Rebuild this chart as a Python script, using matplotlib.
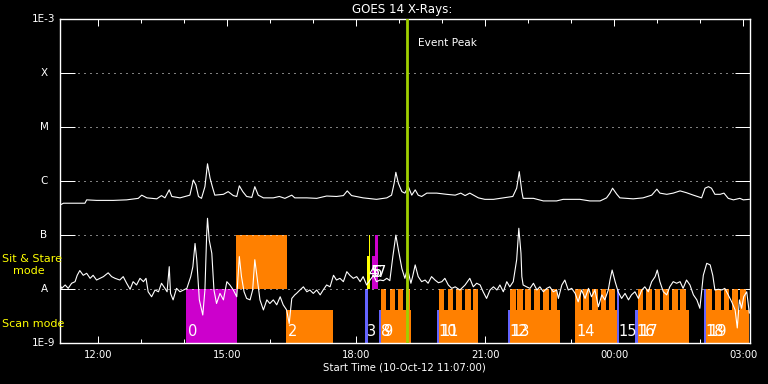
import matplotlib
matplotlib.use("Agg")
import matplotlib.pyplot as plt
from matplotlib.transforms import blended_transform_factory

# ---------------- data ----------------
# GOES 14 long channel (1-8 A), time in hours UT on 10-Oct-12 (values > 24 are next day)
long_t = [11.11, 11.19, 11.42, 11.69, 11.73, 11.96, 12.35, 12.66, 12.93, 13.01, 13.13, 13.36,
          13.47, 13.55, 13.65, 13.71, 13.90, 14.13, 14.21, 14.27, 14.33, 14.40, 14.48, 14.54,
          14.60, 14.66, 14.71, 14.91, 15.02, 15.14, 15.22, 15.28, 15.36, 15.45, 15.57, 15.64,
          15.72, 15.84, 16.07, 16.21, 16.34, 16.50, 16.57, 16.85, 17.08, 17.31, 17.54, 17.70,
          17.79, 17.89, 18.16, 18.47, 18.71, 18.82, 18.88, 18.92, 18.98, 19.06, 19.13, 19.21,
          19.29, 19.37, 19.44, 19.52, 19.64, 19.87, 20.10, 20.30, 20.43, 20.53, 20.64, 20.84,
          20.99, 21.19, 21.42, 21.64, 21.73, 21.79, 21.85, 21.88, 22.12, 22.35, 22.66, 22.81,
          23.20, 23.43, 23.67, 23.82, 23.90, 23.96, 24.06, 24.13, 24.44, 24.67, 24.87, 24.99,
          25.06, 25.22, 25.37, 25.53, 25.68, 25.84, 26.03, 26.11, 26.19, 26.26, 26.34, 26.46,
          26.55, 26.65, 26.77, 26.92, 27.00, 27.14]
long_flux = [3.6e-7, 3.9e-7, 3.9e-7, 3.9e-7, 4.5e-7, 4.4e-7, 4.4e-7, 4.5e-7, 4.8e-7, 5.5e-7, 4.9e-7, 4.7e-7,
             5.4e-7, 4.9e-7, 6.9e-7, 5.2e-7, 4.9e-7, 5.5e-7, 1.05e-6, 8.5e-7, 5.2e-7, 4.8e-7, 7.9e-7, 2.1e-6,
             1.13e-6, 7.5e-7, 5.5e-7, 5.7e-7, 6.4e-7, 5.4e-7, 5.2e-7, 8.2e-7, 6.4e-7, 5.2e-7, 5.0e-7, 7.9e-7,
             5.5e-7, 4.9e-7, 4.9e-7, 5.2e-7, 4.8e-7, 5.5e-7, 4.9e-7, 4.9e-7, 4.8e-7, 5.3e-7, 5.2e-7, 5.4e-7,
             6.6e-7, 5.4e-7, 4.9e-7, 4.6e-7, 4.9e-7, 5.5e-7, 9.1e-7, 1.46e-6, 9.1e-7, 6.4e-7, 6.0e-7, 7.9e-7,
             5.5e-7, 6.9e-7, 5.5e-7, 5.2e-7, 6.0e-7, 6.0e-7, 5.7e-7, 5.5e-7, 6.0e-7, 5.4e-7, 6.0e-7, 4.9e-7,
             4.6e-7, 4.6e-7, 4.9e-7, 5.2e-7, 7.4e-7, 1.5e-6, 6.4e-7, 4.8e-7, 4.8e-7, 4.3e-7, 4.3e-7, 4.6e-7,
             4.6e-7, 4.3e-7, 4.3e-7, 4.9e-7, 6.0e-7, 7.4e-7, 5.7e-7, 4.9e-7, 4.7e-7, 4.9e-7, 5.5e-7, 7.1e-7,
             6.0e-7, 5.7e-7, 6.0e-7, 6.6e-7, 6.1e-7, 5.5e-7, 4.9e-7, 7.4e-7, 7.9e-7, 7.4e-7, 5.7e-7, 5.7e-7,
             6.0e-7, 4.8e-7, 4.5e-7, 4.8e-7, 4.5e-7, 4.6e-7]

# GOES 14 short channel (0.5-4 A)
short_t = [11.11, 11.15, 11.23, 11.30, 11.38, 11.46, 11.51, 11.57, 11.65, 11.73, 11.81, 11.88,
           11.96, 12.04, 12.12, 12.23, 12.31, 12.39, 12.50, 12.58, 12.66, 12.74, 12.81, 12.89,
           12.97, 13.05, 13.11, 13.16, 13.24, 13.32, 13.40, 13.47, 13.55, 13.60, 13.65, 13.68,
           13.74, 13.82, 13.90, 13.98, 14.06, 14.15, 14.20, 14.25, 14.29, 14.35, 14.43, 14.48,
           14.52, 14.54, 14.58, 14.64, 14.69, 14.75, 14.83, 14.91, 14.99, 15.06, 15.14, 15.22,
           15.28, 15.33, 15.39, 15.45, 15.53, 15.59, 15.64, 15.70, 15.76, 15.84, 15.92, 15.99,
           16.07, 16.15, 16.23, 16.30, 16.38, 16.44, 16.50, 16.57, 16.61, 16.69, 16.77, 16.85,
           16.92, 17.00, 17.08, 17.16, 17.23, 17.31, 17.39, 17.47, 17.54, 17.62, 17.70, 17.78,
           17.85, 17.93, 18.01, 18.09, 18.16, 18.24, 18.32, 18.40, 18.47, 18.55, 18.63, 18.71,
           18.78, 18.85, 18.92, 18.98, 19.06, 19.13, 19.19, 19.27, 19.31, 19.37, 19.44, 19.52,
           19.60, 19.67, 19.75, 19.83, 19.91, 19.99, 20.06, 20.14, 20.22, 20.30, 20.41, 20.53,
           20.64, 20.72, 20.80, 20.88, 20.95, 21.03, 21.11, 21.19, 21.27, 21.34, 21.42, 21.50,
           21.57, 21.65, 21.73, 21.78, 21.83, 21.85, 21.88, 21.96, 22.04, 22.12, 22.20, 22.27,
           22.35, 22.43, 22.50, 22.58, 22.66, 22.70, 22.78, 22.85, 22.93, 23.01, 23.09, 23.16,
           23.24, 23.32, 23.40, 23.47, 23.55, 23.63, 23.71, 23.78, 23.86, 23.90, 23.95, 24.02,
           24.09, 24.17, 24.25, 24.33, 24.40, 24.48, 24.56, 24.64, 24.71, 24.79, 24.87, 24.95,
           25.00, 25.06, 25.14, 25.22, 25.29, 25.37, 25.45, 25.53, 25.60, 25.68, 25.76, 25.84,
           25.92, 25.99, 26.07, 26.15, 26.23, 26.29, 26.34, 26.42, 26.50, 26.57, 26.65, 26.73,
           26.81, 26.86, 26.91, 26.96, 27.01, 27.08, 27.14]
short_flux = [1.19e-8, 1.03e-8, 1.19e-8, 1.03e-8, 1.28e-8, 1.37e-8, 1.8e-8, 2.2e-8, 1.8e-8, 1.96e-8, 1.58e-8, 1.8e-8,
              1.47e-8, 1.58e-8, 1.7e-8, 2.0e-8, 1.7e-8, 1.58e-8, 1.47e-8, 1.7e-8, 1.28e-8, 9.9e-9, 1.37e-8, 1.19e-8,
              1.58e-8, 1.37e-8, 1.58e-8, 8.9e-9, 7.2e-9, 9.6e-9, 8.9e-9, 1.28e-8, 1.03e-8, 8.9e-9, 2.6e-8, 8.3e-9,
              6.3e-9, 1.03e-8, 8.9e-9, 9.6e-9, 1.03e-8, 1.7e-8, 2.6e-8, 7.0e-8, 3.5e-8, 6.3e-9, 3.3e-9, 9.6e-9,
              1.0e-7, 2.05e-7, 8.1e-8, 4.6e-8, 9.6e-9, 5.4e-9, 8.3e-9, 6.3e-9, 1.37e-8, 1.19e-8, 9.6e-9, 7.2e-9,
              4.0e-8, 1.7e-8, 8.9e-9, 6.7e-9, 6.3e-9, 9.6e-9, 3.5e-8, 1.47e-8, 6.3e-9, 4.1e-9, 6.3e-9, 5.4e-9,
              6.3e-9, 5.1e-9, 7.2e-9, 5.1e-9, 4.1e-9, 2.3e-9, 6.7e-9, 7.8e-9, 8.3e-9, 9.6e-9, 1.1e-8, 8.9e-9,
              9.6e-9, 8.3e-9, 9.6e-9, 7.8e-9, 9.6e-9, 1.19e-8, 1.1e-8, 1.8e-8, 1.47e-8, 1.58e-8, 1.37e-8, 2.1e-8,
              1.8e-8, 1.58e-8, 1.7e-8, 1.37e-8, 1.7e-8, 1.19e-8, 1.47e-8, 1.8e-8, 1.37e-8, 1.47e-8, 1.43e-8, 1.58e-8,
              1.43e-8, 4.0e-8, 1.0e-7, 5.3e-8, 2.4e-8, 1.58e-8, 2.4e-8, 1.28e-8, 1.7e-8, 2.8e-8, 1.7e-8, 1.37e-8,
              1.47e-8, 1.28e-8, 1.7e-8, 1.47e-8, 1.31e-8, 1.37e-8, 1.58e-8, 1.19e-8, 1.03e-8, 1.1e-8, 9.6e-9, 1.19e-8,
              1.58e-8, 1.1e-8, 1.28e-8, 1.19e-8, 8.9e-9, 6.7e-9, 9.6e-9, 1.1e-8, 9.6e-9, 1.19e-8, 8.9e-9, 1.37e-8,
              1.1e-8, 1.37e-8, 3.5e-8, 1.34e-7, 4.6e-8, 1.7e-8, 1.19e-8, 1.1e-8, 1.03e-8, 1.28e-8, 9.6e-9, 1.1e-8,
              8.9e-9, 1.03e-8, 1.1e-8, 8.9e-9, 9.6e-9, 6.7e-9, 1.19e-8, 1.47e-8, 9.6e-9, 1.03e-8, 8.3e-9, 5.8e-9,
              9.6e-9, 6.7e-9, 1.03e-8, 7.2e-9, 9.6e-9, 4.7e-9, 7.8e-9, 6.3e-9, 9.6e-9, 1.47e-8, 2.25e-8, 1.37e-8,
              8.9e-9, 6.7e-9, 8.3e-9, 6.3e-9, 7.8e-9, 8.9e-9, 6.7e-9, 9.6e-9, 1.1e-8, 8.9e-9, 1.37e-8, 1.7e-8,
              2.25e-8, 1.37e-8, 8.9e-9, 7.8e-9, 1.1e-8, 1.37e-8, 1.28e-8, 1.37e-8, 1.03e-8, 1.47e-8, 1.19e-8, 7.8e-9,
              6.3e-9, 4.4e-9, 1.8e-8, 3.0e-8, 2.8e-8, 1.8e-8, 9.6e-9, 9.9e-9, 9.6e-9, 1.03e-8, 7.8e-9, 5.8e-9,
              4.1e-9, 1.9e-9, 6.3e-9, 4.4e-9, 7.2e-9, 8.9e-9, 3.6e-9]

# IRIS observations: start / end (hours UT), mode, colour, full-height flag
obs_start = [14.040, 15.202, 16.365, 18.202, 18.249, 18.295, 18.365, 18.435, 18.533, 18.580,
             19.877, 19.923, 21.528, 21.574, 23.086, 24.056, 24.481, 24.544, 26.086, 26.144]
obs_end = [15.226, 16.388, 17.465, 18.265, 18.319, 18.326, 18.505, 18.505, 18.580, 19.265,
           19.923, 20.837, 21.574, 22.737, 24.056, 24.121, 24.544, 25.737, 26.144, 27.126]
obs_mode = ['scan', 'sit', 'scan', 'scan', 'sit', 'sit', 'sit', 'sit', 'scan', 'scan',
            'scan', 'scan', 'scan', 'scan', 'scan', 'scan', 'scan', 'scan', 'scan', 'scan']
obs_color = ['#cc00cc', '#ff8000', '#ff8000', '#6464ff', '#ffff00', '#ffff00', '#cc00cc', '#cc00cc',
             '#6464ff', '#ff8000', '#6464ff', '#ff8000', '#6464ff', '#ff8000', '#ff8000', '#6464ff',
             '#6464ff', '#ff8000', '#6464ff', '#ff8000']
obs_full = [True, True, False, True, False, True, False, True, False, False,
            False, False, False, False, False, True, False, False, True, False]
obs_show_label = [True, False] + [True] * 18

# repeated short exposures inside long rasters (tooth start times, hours)
comb_teeth = {
    9: [18.58, 18.79, 18.98, 19.15],
    11: [19.92, 20.13, 20.32, 20.53, 20.72],
    13: [21.57, 21.73, 21.93, 22.13, 22.34, 22.53],
    14: [23.09, 23.28, 23.48, 23.68, 23.88],
    17: [24.54, 24.74, 24.94, 25.14, 25.34, 25.53],
    19: [26.14, 26.34, 26.54, 26.74, 26.93],
}
tooth_len = {9: 0.11, 11: 0.128, 13: 0.14, 14: 0.13, 17: 0.13, 19: 0.13}

event_peak = 19.18

level_vals = [1e-9, 1e-8, 1e-7, 1e-6, 1e-5, 1e-4, 1e-3]
level_labels = ['1E-9', 'A', 'B', 'C', 'M', 'X', '1E-3']
grid_levels = [1e-8, 1e-7, 1e-6, 1e-5, 1e-4]
xtick_hours = [12, 15, 18, 21, 24, 27]
xtick_labels = ['12:00', '15:00', '18:00', '21:00', '00:00', '03:00']
minor_hours = [13, 14, 16, 17, 19, 20, 22, 23, 25, 26]

# band levels
scan_base, scan_part, scan_full = 1e-9, 4.1e-9, 1e-8
sit_base, sit_part, sit_full = 1e-8, 4.1e-8, 1e-7

# ---------------- figure ----------------
W, H = 768, 384
fig = plt.figure(figsize=(W / 100, H / 100), dpi=100, facecolor='black')
ax = fig.add_axes([60.3 / W, 1 - 343 / H, (750 - 60.3) / W, (343 - 19.3) / H])
ax.set_facecolor('black')
ax.set_yscale('log')
ax.set_ylim(1e-9, 1e-3)
ax.set_xlim(11.1167, 27.156)
px = 0.72

# bars
for i in range(len(obs_start)):
    s, e = obs_start[i], obs_end[i]
    if obs_mode[i] == 'scan':
        base, top = scan_base, (scan_full if obs_full[i] else scan_part)
    else:
        base, top = sit_base, (sit_full if obs_full[i] else sit_part)
    ax.bar(s, top - base, width=e - s, bottom=base, align='edge',
           color=obs_color[i], linewidth=0, zorder=2)
    if i in comb_teeth:
        for ts in comb_teeth[i]:
            te = min(ts + tooth_len[i], e)
            ax.bar(ts, scan_full - scan_base, width=te - ts, bottom=scan_base,
                   align='edge', color=obs_color[i], linewidth=0, zorder=2)

# bar labels
for i in range(len(obs_start)):
    if not obs_show_label[i]:
        continue
    yl = 1.6e-9 if obs_mode[i] == 'scan' else 2.0e-8
    ax.text(obs_start[i] + 0.035, yl, str(i), color='white', fontsize=10.5,
            ha='left', va='center', zorder=6)

# grid
for g in grid_levels:
    ax.axhline(g, color='white', lw=px, linestyle=(0, (1, 5)), zorder=3)

# curves
ax.plot(long_t, long_flux, color='white', lw=0.8, zorder=4)
ax.plot(short_t, short_flux, color='white', lw=0.8, zorder=4)

# event peak
ax.axvline(event_peak, color='#a0d000', lw=2.0, zorder=5)
ax.text(19.435, 3.6e-4, 'Event Peak', color='white', fontsize=7.6,
        ha='left', va='center', zorder=6)

# axes styling
for sp in ax.spines.values():
    sp.set_color('white')
    sp.set_linewidth(1.0)
ax.set_yticks(level_vals)
ax.set_yticks([], minor=True)
ax.set_yticklabels([])
ax.tick_params(axis='y', which='major', direction='in', length=10.8, width=px,
               color='white', left=True, right=True)
ax.set_xticks(xtick_hours)
ax.set_xticks(minor_hours, minor=True)
ax.set_xticklabels([])
ax.tick_params(axis='x', which='major', direction='in', length=5, width=px,
               color='white', top=True, bottom=True)
ax.tick_params(axis='x', which='minor', direction='in', length=2.6, width=px,
               color='white', top=True, bottom=True)
for t in ax.get_xticklines() + ax.get_yticklines() + ax.xaxis.get_minorticklines():
    t.set_zorder(7)

ytr = blended_transform_factory(fig.transFigure, ax.transData)
for v, lab in zip(level_vals, level_labels):
    ax.text(44 / W, v, lab, transform=ytr, color='white', fontsize=7.5,
            ha='center', va='center', clip_on=False)

xtr = blended_transform_factory(ax.transData, fig.transFigure)
for h, lab in zip(xtick_hours, xtick_labels):
    ax.text(h, 1 - 355 / H, lab, transform=xtr, color='white', fontsize=7.2,
            ha='center', va='center', clip_on=False)

fig.text(404 / W, 1 - 368 / H, 'Start Time (10-Oct-12 11:07:00)', color='white',
         fontsize=7.3, ha='center', va='center')
fig.text(402 / W, 1 - 9 / H, 'GOES 14 X-Rays:', color='white', fontsize=8.6,
         ha='center', va='center')

fig.text(2 / W, 1 - 259 / H, 'Sit & Stare', color='#ffff00', fontsize=8,
         ha='left', va='center')
fig.text(13 / W, 1 - 271 / H, 'mode', color='#ffff00', fontsize=8,
         ha='left', va='center')
fig.text(2 / W, 1 - 324 / H, 'Scan mode', color='#ffff00', fontsize=8,
         ha='left', va='center')

fig.savefig('out.png', dpi=100, facecolor='black')
